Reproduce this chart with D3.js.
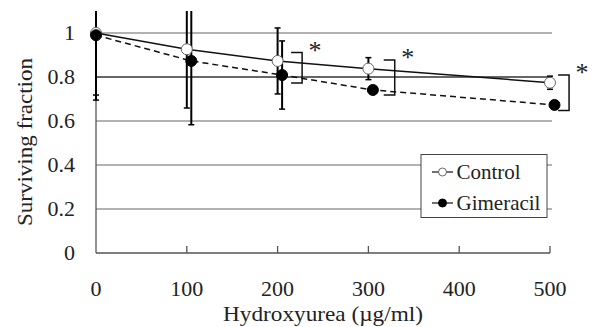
<!DOCTYPE html>
<html>
<head>
<meta charset="utf-8">
<script src="https://cdn.jsdelivr.net/npm/d3@7"></script>
</head>
<body style="margin:0">
<script>
const doses = [0, 100, 200, 300, 500],
    controlMean = [1.0, 0.926, 0.873, 0.838, 0.774],
    controlErr = [0.282, 0.267, 0.15, 0.05, 0.03],
    gimeracilMean = [0.99, 0.873, 0.809, 0.741, 0.673],
    gimeracilErr = [0.295, 0.29, 0.155, 0.01, 0.01],
    xTicks = [0, 100, 200, 300, 400, 500],
    yTicks = [0, 0.2, 0.4, 0.6, 0.8, 1],
    // significance brackets: dose where bracket sits, top and bottom values
    sigDose = [227, 329, 521],
    sigTop = [0.911, 0.877, 0.809],
    sigBottom = [0.773, 0.718, 0.648];

const width = 599,
    height = 327,
    x = d3.scaleLinear().domain([0, 500]).range([96, 550]),
    y = d3.scaleLinear().domain([0, 1.1]).range([253, 11]),
    gimOffset = 4.5,
    svg = d3.select("body").append("svg")
        .attr("width", width)
        .attr("height", height);

const label = (sel, size) => sel
    .style("font", `${size}px "Liberation Serif", Tinos, FreeSerif, serif`)
    .style("fill", "#222");

svg.append("defs").append("clipPath").attr("id", "plot")
    .append("rect")
    .attr("x", x(0) - 10).attr("y", y(1.1))
    .attr("width", x(500) - x(0) + 20).attr("height", y(0) - y(1.1));

// gridlines
svg.selectAll(".grid")
    .data(yTicks.filter(d => d > 0))
    .enter().append("line")
    .attr("x1", x(0)).attr("x2", x(500) + 2)
    .attr("y1", d => y(d)).attr("y2", d => y(d))
    .attr("stroke", d => d === 0.8 ? "#333" : "#999")
    .attr("stroke-width", 1.3);

// axes
svg.append("line")
    .attr("x1", x(0)).attr("x2", x(0))
    .attr("y1", y(0)).attr("y2", y(1))
    .attr("stroke", "#555").attr("stroke-width", 1.3);
svg.append("line")
    .attr("x1", x(0)).attr("x2", x(500))
    .attr("y1", y(0)).attr("y2", y(0))
    .attr("stroke", "#555").attr("stroke-width", 1.3);
svg.selectAll(".xtick")
    .data(xTicks.slice(1))
    .enter().append("line")
    .attr("x1", d => x(d)).attr("x2", d => x(d))
    .attr("y1", y(0)).attr("y2", y(0) - 7)
    .attr("stroke", "#555").attr("stroke-width", 1.3);

svg.selectAll(".xlabel")
    .data(xTicks)
    .enter().append("text")
    .attr("x", d => x(d)).attr("y", 296)
    .attr("text-anchor", "middle")
    .call(label, 22)
    .text(d => d);

svg.selectAll(".ylabel")
    .data(yTicks)
    .enter().append("text")
    .attr("x", 75).attr("y", d => y(d) + 7)
    .attr("text-anchor", "end")
    .call(label, 22)
    .text(d => d);

svg.append("text")
    .attr("x", 323).attr("y", 321)
    .attr("text-anchor", "middle")
    .attr("textLength", 200)
    .attr("lengthAdjust", "spacingAndGlyphs")
    .call(label, 21)
    .text("Hydroxyurea (\u00b5g/ml)");

svg.append("text")
    .attr("transform", "translate(32,142) rotate(-90)")
    .attr("text-anchor", "middle")
    .attr("textLength", 168)
    .attr("lengthAdjust", "spacingAndGlyphs")
    .call(label, 21)
    .text("Surviving fraction");

const series = [
    { mean: controlMean, err: controlErr, dx: 0, fill: "#fff", dash: null },
    { mean: gimeracilMean, err: gimeracilErr, dx: gimOffset, fill: "#000", dash: "6,4" }
];

const px = (s, i) => x(doses[i]) + (i > 0 ? s.dx : 0);

// error bars
const bars = svg.append("g").attr("clip-path", "url(#plot)");
series.forEach(s => {
    doses.forEach((d, i) => {
        const cx = px(s, i),
            top = y(s.mean[i] + s.err[i]),
            bot = y(s.mean[i] - s.err[i]);
        bars.append("line")
            .attr("x1", cx).attr("x2", cx).attr("y1", top).attr("y2", bot)
            .attr("stroke", "#000").attr("stroke-width", 2);
        [top, bot].forEach(v => bars.append("line")
            .attr("x1", cx - 3).attr("x2", cx + 3).attr("y1", v).attr("y2", v)
            .attr("stroke", "#000").attr("stroke-width", 1.5));
    });
});

// lines
series.forEach(s => {
    svg.append("path")
        .datum(doses.map((d, i) => [px(s, i), y(s.mean[i])]))
        .attr("d", d3.line())
        .attr("fill", "none")
        .attr("stroke", "#111")
        .attr("stroke-width", 1.5)
        .attr("stroke-dasharray", s.dash);
});

// markers
series.forEach(s => {
    svg.selectAll(null)
        .data(doses)
        .enter().append("circle")
        .attr("cx", (d, i) => px(s, i))
        .attr("cy", (d, i) => y(s.mean[i]))
        .attr("r", 5.5)
        .attr("fill", s.fill)
        .attr("stroke", s.fill === "#fff" ? "#666" : "#000")
        .attr("stroke-width", 1);
});

// significance brackets and stars
sigDose.forEach((d, i) => {
    const bx = x(d), t = y(sigTop[i]), b = y(sigBottom[i]);
    svg.append("path")
        .attr("d", `M${bx - 11},${t}H${bx}V${b}H${bx - 11}`)
        .attr("fill", "none").attr("stroke", "#111").attr("stroke-width", 1.5);
    svg.append("text")
        .attr("x", bx + 13).attr("y", t + 6)
        .attr("text-anchor", "middle")
        .call(label, 26)
        .text("*");
});

// legend
const legend = svg.append("g");
legend.append("rect")
    .attr("x", 421).attr("y", 154.5).attr("width", 126).attr("height", 63)
    .attr("fill", "#fff").attr("stroke", "#444").attr("stroke-width", 1);
[["Control", "#fff", 172], ["Gimeracil", "#000", 203]].forEach(([name, fill, ly]) => {
    legend.append("line")
        .attr("x1", 432).attr("x2", 453).attr("y1", ly).attr("y2", ly)
        .attr("stroke", "#111").attr("stroke-width", 1.2);
    legend.append("circle")
        .attr("cx", 442.5).attr("cy", ly).attr("r", 4)
        .attr("fill", fill).attr("stroke", fill === "#fff" ? "#666" : "#000");
    legend.append("text")
        .attr("x", 456.5).attr("y", ly + 7)
        .call(label, 21)
        .text(name);
});
</script>
</body>
</html>
